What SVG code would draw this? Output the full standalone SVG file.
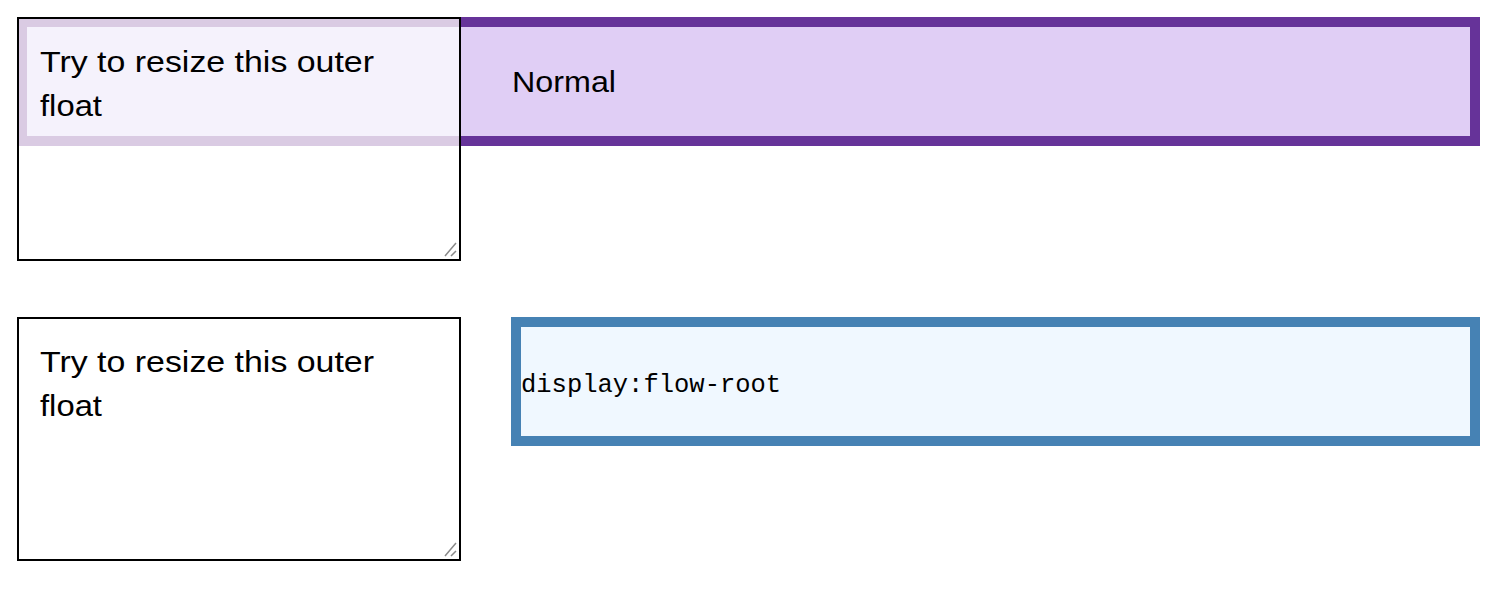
<svg xmlns="http://www.w3.org/2000/svg" width="1500" height="600" viewBox="0 0 1500 600">
<style>
.sans{font-family:"Liberation Sans",Arial,sans-serif;font-size:30px;fill:#000}
.mono{font-family:"Liberation Mono","DejaVu Sans Mono",monospace;font-size:25.5px;fill:#000}
.float{fill:none;stroke:#000;stroke-width:2}
.grip{stroke:#8a8a8a;stroke-width:1.5;fill:none}
</style>
<rect width="1500" height="600" fill="#fff"/>
<g id="normal-box">
<rect x="22" y="22" width="1453" height="119" fill="#e0cef5" stroke="#663399" stroke-width="10"/>
<text class="sans" x="512" y="92" textLength="104" lengthAdjust="spacingAndGlyphs">Normal</text>
</g>
<g id="float-top">
<rect x="18" y="18" width="442" height="128" fill="#dacbe3"/>
<rect x="27" y="27" width="432" height="109" fill="#f5f2fc"/>
<text class="sans" x="40" y="72" textLength="334" lengthAdjust="spacingAndGlyphs">Try to resize this outer</text>
<text class="sans" x="40" y="116" textLength="62" lengthAdjust="spacingAndGlyphs">float</text>
<rect class="float" x="18" y="18" width="442" height="242"/>
<path class="grip" d="M456 243L445 256M456 251L451 256"/>
</g>
<g id="flow-root-box">
<rect x="516" y="322" width="959" height="119" fill="#f0f8ff" stroke="#4682b4" stroke-width="10"/>
<text class="mono" x="521" y="392">display:flow-root</text>
</g>
<g id="float-bottom">
<rect class="float" x="18" y="318" width="442" height="242"/>
<text class="sans" x="40" y="372" textLength="334" lengthAdjust="spacingAndGlyphs">Try to resize this outer</text>
<text class="sans" x="40" y="416" textLength="62" lengthAdjust="spacingAndGlyphs">float</text>
<path class="grip" d="M456 543L445 556M456 551L451 556"/>
</g>
<g id="connectors"></g>
</svg>
